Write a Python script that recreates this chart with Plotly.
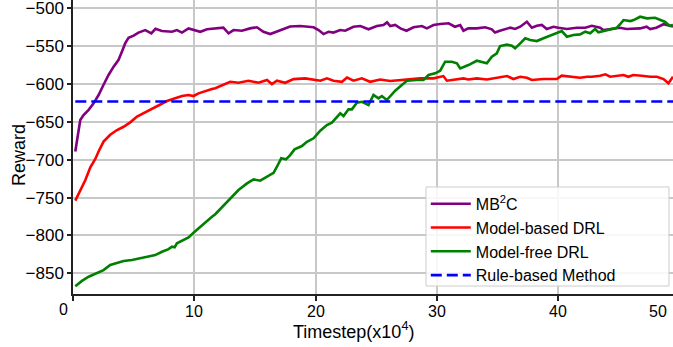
import plotly.graph_objects as go

# Training reward curves (timestep in units of 1e4)
mb2c_steps = [0.19, 0.41, 0.6, 0.87, 1.29, 1.7, 2.11, 2.52, 2.93, 3.35, 3.76, 4.04, 4.31, 4.58, 5.0, 5.4,
              5.96, 6.46, 6.8, 7.33, 8.16, 8.57, 8.99, 9.53, 10.1, 10.5, 11.05, 11.87, 12.4, 12.83, 13.24,
              13.93, 14.6, 15.17, 15.7, 16.27, 16.8, 17.36, 17.9, 18.74, 19.84, 20.25, 20.66, 21.07, 21.48,
              22.04, 22.45, 23.13, 23.7, 24.37, 25.06, 25.6, 25.9, 26.16, 26.57, 27.0, 27.5, 28.08, 28.77,
              29.18, 29.73, 30.28, 30.97, 31.5, 31.93, 32.2, 32.6, 33.3, 33.99, 34.54, 34.8, 35.2, 35.78,
              36.05, 36.46, 36.88, 37.43, 37.84, 38.25, 38.66, 39.07, 39.62, 40.03, 40.73, 41.55, 42.24,
              42.79, 43.47, 43.74, 44.3, 44.7, 45.1, 45.67, 46.2, 46.77, 47.3, 47.6, 48.1, 48.7, 49.2, 49.48]
mb2c_reward = [-689, -663, -647.5, -641, -634, -625.5, -614.5, -601, -588, -577, -568, -557, -546, -539, -536,
               -532, -528.7, -533, -527, -530, -531, -528.7, -532, -526.5, -528.7, -531, -527.7, -526.5,
               -525.6, -533, -528.7, -529.6, -526.5, -525, -531, -534, -531, -527.7, -524, -523.4, -525,
               -528.7, -534, -531, -532, -528.7, -529.6, -524.3, -523.4, -527.7, -523.4, -522, -518.5,
               -523.4, -522, -526.5, -529.6, -525, -523.4, -526.5, -522, -520.7, -519.8, -524.3, -522,
               -529.6, -526.5, -526.5, -525, -527.7, -532, -529.6, -526.5, -525.6, -527.3, -524.3, -517.7,
               -525.6, -523, -522, -527.3, -524.3, -525.6, -527.3, -525.6, -525.6, -523, -525.6, -528.7,
               -527.3, -525.6, -525.6, -527.3, -527.3, -526.5, -524.3, -527.3, -525.6, -521, -523, -523.8]

mbdrl_steps = [0.19, 0.6, 1.01, 1.43, 1.84, 2.11, 2.52, 3.07, 3.63, 4.17, 4.72, 5.28, 5.96, 6.51, 7.2, 7.75,
               8.43, 8.99, 9.53, 9.94, 10.35, 10.9, 11.46, 11.73, 12.42, 12.97, 13.65, 14.47, 15.3, 16.0,
               16.4, 16.82, 17.5, 18.19, 19.15, 19.97, 20.4, 20.94, 21.48, 22.18, 22.6, 23.13, 23.82, 24.5,
               25.33, 26.16, 27.0, 27.5, 28.63, 29.73, 30.55, 30.83, 31.5, 32.2, 32.6, 33.3, 34.13, 34.95,
               35.8, 36.32, 36.88, 37.43, 37.84, 38.8, 39.9, 40.3, 40.99, 41.82, 42.4, 42.79, 43.47, 43.9,
               44.3, 45.0, 45.4, 45.8, 46.2, 46.9, 47.6, 48.15, 48.7, 49.1, 49.48]
mbdrl_reward = [-754, -740, -727, -710, -699, -689, -676, -667, -660.7, -656.4, -650.6, -643, -637.4, -633.4,
                -626.8, -622.4, -618.9, -615.8, -614.5, -615.8, -612.3, -609, -606.6, -605.5, -601.3, -597,
                -598.3, -595.6, -598.3, -594.7, -600, -595.6, -598.3, -593.5, -592.5, -594, -595.6, -592.5,
                -595.6, -597, -591.5, -595.6, -592.5, -597, -594, -596, -594.7, -594, -592.5, -592.5,
                -589.5, -595.6, -594, -592.5, -594, -592.5, -594, -591.7, -589.5, -593.4, -590.4, -591.7,
                -594.7, -593.4, -593.4, -589, -590.4, -591.7, -590.4, -590.4, -589, -587.2, -590.4, -589,
                -588.1, -590.4, -588.1, -589, -590.4, -590.4, -593.4, -599, -590.4]

mfdrl_steps = [0.19, 0.74, 1.29, 1.98, 2.52, 3.07, 3.63, 4.17, 4.86, 5.55, 6.23, 6.78, 7.34, 7.88, 8.16, 8.38,
               8.57, 8.99, 9.53, 9.94, 10.35, 10.9, 11.46, 11.73, 12.97, 13.65, 14.35, 14.89, 15.44, 16.0,
               16.54, 16.82, 17.17, 17.56, 17.91, 18.27, 18.88, 19.29, 19.84, 20.39, 20.94, 21.35, 21.76,
               22.04, 22.31, 22.72, 23.0, 23.41, 23.83, 24.37, 24.78, 25.19, 25.47, 25.88, 26.57, 26.98,
               27.53, 28.36, 28.9, 29.32, 29.87, 30.28, 30.69, 31.24, 31.66, 31.93, 32.61, 33.3, 33.85,
               34.13, 34.54, 34.95, 35.22, 35.78, 36.19, 36.46, 36.88, 37.29, 37.7, 38.25, 38.8, 39.35,
               39.9, 40.31, 40.73, 41.27, 41.82, 42.24, 42.65, 43.06, 43.33, 43.74, 44.3, 44.85, 45.12,
               45.4, 45.96, 46.23, 46.77, 47.32, 48.0, 48.4, 48.8, 49.2, 49.48]
mfdrl_reward = [-867, -860, -854.5, -849.2, -845.7, -839, -836, -833.8, -832.5, -830.2, -827.2, -825.9, -821.5,
                -818, -814.9, -815.7, -810.4, -807, -802.5, -796.4, -790.6, -781.9, -775.3, -772, -751, -740,
                -731.2, -725.9, -727.7, -722.4, -717.2, -709.2, -698.1, -699.5, -693.8, -686.3, -681.9,
                -676.2, -671.7, -661.7, -654.2, -651.1, -644, -638.7, -642.3, -633.4, -633.4, -624.7,
                -623.4, -627.7, -614.5, -618.9, -615.8, -621.1, -608.8, -602.6, -595.6, -594.7, -594.7,
                -588.1, -585.9, -582.4, -570.5, -570.5, -572.7, -579.3, -574.9, -569.2, -571.8, -572.7,
                -563.9, -559.4, -549.8, -548, -549.4, -552.8, -546.2, -539.6, -541.9, -543.2, -539.6,
                -536.2, -533, -530, -537.5, -535.3, -534.4, -530.9, -533, -527.3, -531.7, -530, -527.3,
                -525.6, -521, -515.5, -516.8, -515.5, -511.1, -513.2, -512.4, -515.5, -517.7, -523, -522]

rule_based_reward = -623

x_ticks = [0, 10, 20, 30, 40]
x_tick_text = ["0", "10", "20", "30", "40"]
x_end_label = "50"
y_ticks = [-850, -800, -750, -700, -650, -600, -550, -500]

FONT = "Liberation Sans, Arial, sans-serif"

fig = go.Figure()
fig.add_trace(go.Scatter(x=mb2c_steps, y=mb2c_reward, mode="lines", name="MB<sup>2</sup>C",
                         line=dict(color="#800080", width=2.6)))
fig.add_trace(go.Scatter(x=mbdrl_steps, y=mbdrl_reward, mode="lines", name="Model-based DRL",
                         line=dict(color="#ff0000", width=2.6)))
fig.add_trace(go.Scatter(x=mfdrl_steps, y=mfdrl_reward, mode="lines", name="Model-free DRL",
                         line=dict(color="#008000", width=2.6)))
x_span = [min(mb2c_steps), max(mfdrl_steps)]
fig.add_trace(go.Scatter(x=x_span, y=[rule_based_reward] * 2, mode="lines", name="Rule-based Method",
                         line=dict(color="#0000ff", width=2.6, dash="11px,5px")))

# x tick labels: the "0" label sits slightly left of its tick
x_label_notes = [
    dict(text=t, x=v, xref="x", yref="paper", y=-0.061 if v else -0.054, xshift=-10 if v == 0 else 0,
         xanchor="center", yanchor="middle", showarrow=False, font=dict(size=16))
    for v, t in zip(x_ticks, x_tick_text)
]
x_label_notes.append(
    dict(text=x_end_label, xref="paper", yref="paper", x=0.975, y=-0.061,
         xanchor="center", yanchor="middle", showarrow=False, font=dict(size=16))
)

fig.update_layout(
    width=673, height=347,
    margin=dict(l=73, r=0, t=0, b=53),
    paper_bgcolor="white", plot_bgcolor="white",
    font=dict(family=FONT, color="black"),
    showlegend=True,
    legend=dict(x=0.588, xanchor="left", y=0.004, yanchor="bottom",
                bgcolor="rgba(0,0,0,0)", borderwidth=0,
                font=dict(size=16, family=FONT), tracegroupgap=0, itemwidth=40),
    xaxis=dict(range=[0, 49.48], tickvals=x_ticks, showticklabels=False,
               showgrid=True, gridcolor="#c8c8c8", gridwidth=1.5, zeroline=False,
               showline=True, linecolor="#222222", linewidth=1.5,
               ticks="outside", ticklen=5, tickwidth=1.5, tickcolor="#222222"),
    yaxis=dict(range=[-877.3, -489], tickvals=y_ticks, ticklabeloverflow="allow",
               showgrid=True, gridcolor="#c8c8c8", gridwidth=1.5, zeroline=False,
               showline=True, linecolor="#222222", linewidth=1.5,
               ticks="outside", ticklen=4, tickwidth=1.5, tickcolor="#222222",
               tickfont=dict(size=17)),
    shapes=[
        # legend frame
        dict(type="rect", xref="paper", yref="paper", x0=0.5883, x1=0.9933, y0=0.0272, y1=0.364,
             line=dict(color="#cccccc", width=1), fillcolor="rgba(255,255,255,0.85)", layer="above"),
    ],
    annotations=x_label_notes + [
        dict(text="Timestep(x10<sup>4</sup>)", xref="paper", yref="paper", x=0.467, y=-0.125,
             xanchor="center", yanchor="middle", showarrow=False, font=dict(size=18)),
        dict(text="Reward", xref="paper", yref="paper", x=-0.09, y=0.473, textangle=-90,
             xanchor="center", yanchor="middle", showarrow=False, font=dict(size=18)),
    ],
)

fig.write_html("out.html")
